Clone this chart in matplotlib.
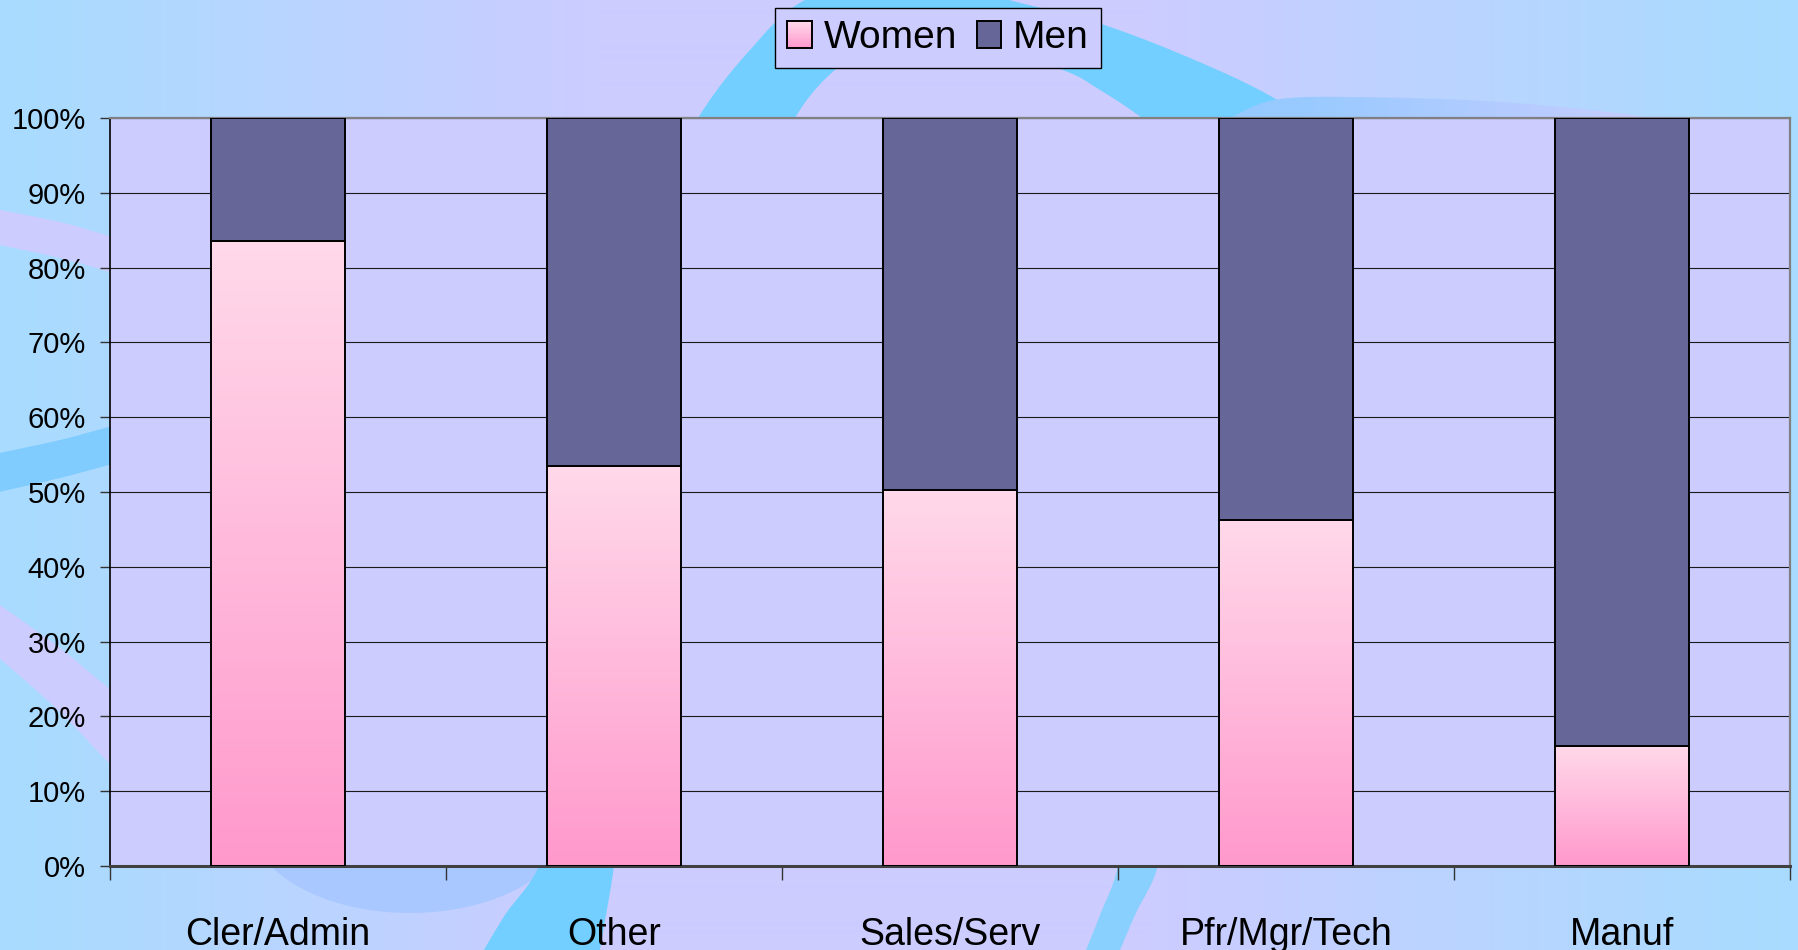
import numpy as np
import matplotlib
matplotlib.use('Agg')
import matplotlib.pyplot as plt
from matplotlib.patches import Polygon, Patch, Rectangle
from matplotlib.colors import LinearSegmentedColormap
from matplotlib.legend_handler import HandlerBase
from matplotlib.ticker import PercentFormatter

# ---------------- data ----------------
categories = ['Cler/Admin', 'Other', 'Sales/Serv', 'Pfr/Mgr/Tech', 'Manuf']
women = [83.5, 53.5, 50.3, 46.3, 16.1]
men = [round(100 - w, 1) for w in women]
yticks = [0, 10, 20, 30, 40, 50, 60, 70, 80, 90, 100]
series_names = ['Women', 'Men']

plt.rcParams['font.family'] = ['Liberation Sans', 'DejaVu Sans']

W, H = 1799, 950
fig = plt.figure(figsize=(W / 100, H / 100), dpi=100)

# ---------------- decorative background ----------------
bg = fig.add_axes([0, 0, 1, 1], zorder=0)
stops_x = [0, 250, 600, 1150, 1450, 1799]
stops_c = np.array([(168, 220, 255), (182, 214, 255), (204, 204, 255),
                    (204, 204, 255), (186, 212, 255), (168, 220, 255)]) / 255.0
xs = np.arange(W)
grad = np.stack([np.interp(xs, stops_x, stops_c[:, k]) for k in range(3)], axis=-1)[None, :, :]
bg.imshow(grad, extent=(0, W, H, 0), aspect='auto', interpolation='bilinear')


def smooth(pts, n=24):
    p = np.asarray(pts, float)
    p = np.vstack([p[0], p, p[-1]])
    out = []
    t = np.linspace(0, 1, n, endpoint=False)[:, None]
    for i in range(1, len(p) - 2):
        p0, p1, p2, p3 = p[i - 1], p[i], p[i + 1], p[i + 2]
        out.append(0.5 * ((2 * p1) + (-p0 + p2) * t + (2 * p0 - 5 * p1 + 4 * p2 - p3) * t ** 2
                          + (-p0 + 3 * p1 - 3 * p2 + p3) * t ** 3))
    out.append(p[-2][None])
    return np.vstack(out)


def blob(edge_a, edge_b, color, z=1, alpha=1.0):
    poly = np.vstack([smooth(edge_a), smooth(edge_b)])
    bg.add_patch(Polygon(poly, closed=True, facecolor=color, edgecolor='none', zorder=z, alpha=alpha))


cyan = '#72cfff'
# big ring arc at the top
blob([(600, 330), (650, 210), (698, 118), (750, 50), (805, 0), (900, -30), (1009, 0),
      (1098, 23), (1190, 58), (1274, 98), (1350, 150), (1400, 230)],
     [(1260, 230), (1180, 150), (1142, 118), (1100, 90), (1060, 69), (960, 40),
      (880, 45), (836, 69), (795, 118), (760, 200), (730, 330)], cyan)
# flat band at the top right
band = np.vstack([smooth([(1230, 118), (1274, 100), (1350, 97), (1500, 102), (1650, 118), (1700, 140)]),
                  [(1700, 160), (1230, 160)]])
bp = Polygon(band, closed=True, facecolor='none', edgecolor='none')
bg.add_patch(bp)
bstops = np.array([(150, 202, 255), (152, 202, 255), (200, 205, 255)]) / 255.0
bgrad = np.stack([np.interp(np.arange(1230, 1700), [1230, 1300, 1650], bstops[:, k]) for k in range(3)],
                 axis=-1)[None, :, :]
im = bg.imshow(bgrad, extent=(1230, 1700, 160, 90), aspect='auto', zorder=1.5)
im.set_clip_path(bp)
# left side bands
blob([(-10, 208), (60, 222), (109, 236), (160, 250)], [(160, 290), (109, 272), (60, 258), (-10, 243)], '#ccccff')
blob([(-10, 455), (60, 440), (109, 427), (160, 415)], [(160, 453), (109, 465), (60, 478), (-10, 494)], '#80ccff')
blob([(-10, 598), (60, 648), (109, 688), (160, 720)], [(160, 810), (109, 763), (60, 712), (-10, 650)], '#ccccff')
# bowl at the bottom left
tt = np.linspace(0, np.pi, 80)
bowl = np.column_stack([410 - 160 * np.cos(tt), 820 + 93 * np.sin(tt)])
bg.add_patch(Polygon(bowl, closed=True, facecolor='#a9c8ff', edgecolor='none', zorder=1))
# bottom bands
blob([(565, 780), (539, 866), (505, 915), (478, 960)], [(598, 960), (606, 915), (614, 866), (625, 780)], cyan, z=1.2)
blob([(1130, 780), (1118, 866), (1100, 915), (1082, 960)], [(1116, 960), (1135, 915), (1158, 866), (1175, 780)],
     '#8ad0ff', z=1.2)
bg.set_xlim(0, W)
bg.set_ylim(H, 0)
bg.axis('off')

# ---------------- chart ----------------
ax = fig.add_axes([110 / W, 1 - 866 / H, 1680 / W, 748 / H], zorder=2)
ax.set_facecolor('#ccccff')
x = np.arange(len(categories))
bw = 0.4
pink_lo, pink_hi = '#ff99cc', '#ffd9ea'
pink = LinearSegmentedColormap.from_list('pink', [pink_lo, pink_hi])

wbars = ax.bar(x, women, bw, facecolor='none', edgecolor='black', linewidth=1.4, zorder=3, label='Women')
for rect in wbars:
    x0, h = rect.get_x(), rect.get_height()
    img = ax.imshow(np.linspace(0, 1, 256)[:, None], cmap=pink, origin='lower',
                    extent=(x0, x0 + bw, 0, h), aspect='auto', zorder=2.5, interpolation='bilinear')
    img.set_clip_path(rect)
ax.bar(x, men, bw, bottom=women, color='#666699', edgecolor='black', linewidth=1.4, zorder=3, label='Men')

ax.set_xlim(-0.5, len(categories) - 0.5)
ax.set_ylim(0, 100)
ax.set_aspect('auto')

ax.set_yticks(yticks)
ax.yaxis.set_major_formatter(PercentFormatter(decimals=0))
ax.grid(axis='y', color='#1a1a1a', linewidth=0.8)
ax.set_axisbelow(True)

ax.set_xticks(np.arange(-0.5, len(categories), 1.0))
ax.set_xticklabels([])
ax.set_xticks(x, categories, minor=True)
ax.tick_params(axis='x', which='major', length=10, width=1, color='#333333', direction='out')
ax.tick_params(axis='x', which='minor', length=0, pad=37, labelsize=27, labelcolor='black')
ax.tick_params(axis='y', length=7, width=1, color='#333333', pad=10.5, labelsize=21, labelcolor='black')

ax.spines['left'].set_color('black')
ax.spines['left'].set_linewidth(1.2)
ax.spines['bottom'].set_color('#404040')
ax.spines['bottom'].set_linewidth(2.2)
for s in ('top', 'right'):
    ax.spines[s].set_color('#808080')
    ax.spines[s].set_linewidth(1.6)


class GradientHandler(HandlerBase):
    def create_artists(self, legend, orig_handle, xdescent, ydescent, width, height, fontsize, trans):
        arts = []
        n = 16
        for i in range(n):
            c = pink(i / (n - 1))
            arts.append(Rectangle((-xdescent, -ydescent + height * i / n), width, height / n + 0.3,
                                  facecolor=c, edgecolor='none', transform=trans))
        arts.append(Rectangle((-xdescent, -ydescent), width, height, facecolor='none',
                              edgecolor='black', linewidth=1.4, transform=trans))
        return arts


women_handle = Patch(facecolor='#ffbfdd', edgecolor='black', linewidth=1.4, label=series_names[0])
men_handle = Patch(facecolor='#666699', edgecolor='black', linewidth=1.4, label=series_names[1])
leg = fig.legend(handles=[women_handle, men_handle], loc='center', bbox_to_anchor=(938 / W, 1 - 38 / H), ncol=2,
                 fontsize=28, frameon=True, fancybox=False, edgecolor='black', facecolor='#ccccff',
                 framealpha=1, handlelength=0.64, handleheight=0.7, handletextpad=0.3,
                 columnspacing=0.5, borderpad=0.3, borderaxespad=0,
                 handler_map={women_handle: GradientHandler()})
leg.get_frame().set_linewidth(1.0)

fig.savefig('out.png', dpi=100)
